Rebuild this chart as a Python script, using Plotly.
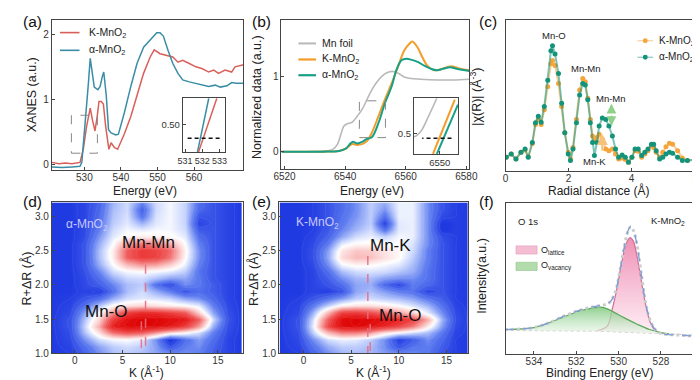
import plotly.graph_objects as go

W, H = 700, 380
FONT = "Arial, Liberation Sans, sans-serif"

# ---------------- (a) O K-edge XANES ----------------
a_E_alpha = [521.1, 523.9, 526.6, 528.8, 529.3, 530.2, 531.1, 531.6, 532.2, 532.7, 533.7, 534.3, 534.9, 535.3,
             536.0, 536.6, 537.3, 538.6, 539.3, 540.9, 542.7, 544.4, 546.2, 548.0, 549.8, 550.7, 551.6, 552.9,
             554.2, 555.6, 556.9, 558.7, 560.5, 562.3, 564.0, 565.8, 567.2, 569.0, 570.3, 571.6, 573.6]
a_v_alpha = [-0.03, -0.04, -0.03, -0.02, 0.04, 0.59, 1.25, 1.63, 1.35, 1.19, 1.15, 1.20, 1.35, 1.42,
             1.05, 0.54, 0.49, 0.46, 0.47, 0.79, 1.20, 1.55, 1.80, 1.91, 2.02, 2.02, 1.97, 1.75,
             1.55, 1.40, 1.30, 1.27, 1.25, 1.22, 1.20, 1.22, 1.19, 1.21, 1.26, 1.25, 1.25]
a_E_K = [521.1, 523.0, 524.8, 526.6, 528.8, 529.7, 530.6, 531.6, 532.2, 532.9, 533.5, 534.0, 534.6, 535.2,
         535.8, 536.7, 537.3, 538.2, 539.1, 540.9, 542.7, 544.4, 546.2, 548.0, 549.1, 550.7, 552.5, 554.2,
         555.6, 556.9, 558.7, 560.5, 562.3, 564.0, 565.4, 566.7, 568.5, 570.3, 571.2, 573.6]
a_v_K = [0.04, 0.02, 0.03, 0.02, 0.04, 0.24, 0.59, 0.87, 0.69, 0.52, 0.74, 0.97, 0.97, 0.93,
         0.60, 0.24, 0.34, 0.27, 0.24, 0.47, 0.74, 1.05, 1.40, 1.65, 1.76, 1.70, 1.67, 1.65,
         1.57, 1.60, 1.55, 1.50, 1.47, 1.42, 1.45, 1.40, 1.45, 1.42, 1.50, 1.53]
a_x_ticks = [530, 540, 550, 560]
a_y_ticks = [0, 1, 2]
# inset of (a)
ai_E_alpha = [531.72, 532.38]
ai_v_alpha = [0.358, 0.633]
ai_E_K = [531.78, 532.85]
ai_v_K = [0.358, 0.633]
ai_arrow_E = [531.15, 533.05]
ai_arrow_v = [0.43, 0.43]
ai_x_ticks = [531, 532, 533]
ai_y_ticks = [0.50]

# ---------------- (b) Mn K-edge ----------------
b_E_foil = [6519, 6527.3, 6533.7, 6535.9, 6537.5, 6538.6, 6539.6, 6540.7, 6542.3, 6544.0, 6545.6, 6547.2,
            6548.8, 6551.0, 6553.1, 6554.7, 6556.3, 6557.9, 6559.5, 6561.7, 6564.9, 6570.3, 6575.6, 6581.0]
b_v_foil = [0, 0, 0.01, 0.03, 0.10, 0.23, 0.34, 0.37, 0.39, 0.47, 0.56, 0.69,
            0.82, 0.95, 1.03, 1.06, 1.06, 1.03, 0.99, 0.97, 0.96, 0.95, 0.95, 0.96]
b_E_K = [6519, 6532.6, 6538.0, 6540.2, 6542.3, 6544.0, 6545.6, 6547.2, 6548.8, 6551.0, 6553.1, 6555.3,
         6557.4, 6559.5, 6561.2, 6562.2, 6563.9, 6565.5, 6567.1, 6569.3, 6571.4, 6573.6, 6575.6, 6577.9, 6581.0]
b_v_K = [0, 0, 0.01, 0.04, 0.10, 0.09, 0.10, 0.14, 0.25, 0.47, 0.69, 0.90,
         1.12, 1.34, 1.43, 1.46, 1.38, 1.25, 1.14, 1.08, 1.09, 1.12, 1.13, 1.10, 1.08]
b_E_alpha = [6519, 6532.6, 6538.0, 6540.2, 6541.8, 6542.6, 6544.0, 6545.6, 6547.2, 6548.8, 6551.0, 6553.1,
             6555.3, 6556.9, 6558.6, 6560.2, 6561.7, 6563.9, 6566.1, 6568.2, 6570.3, 6572.5, 6574.6, 6576.8, 6581.0]
b_v_alpha = [0, 0, 0.01, 0.04, 0.11, 0.13, 0.11, 0.13, 0.17, 0.19, 0.38, 0.64,
             0.86, 1.08, 1.21, 1.23, 1.22, 1.19, 1.14, 1.10, 1.08, 1.10, 1.12, 1.10, 1.07]
b_x_ticks = [6520, 6540, 6560, 6580]
b_y_ticks = [0, 1]
# inset of (b)
bi_E_foil = [6547.8, 6548.08, 6548.5, 6549.05, 6549.75]
bi_v_foil = [0.485, 0.492, 0.516, 0.57, 0.642]
bi_E_K = [6549.42, 6551.28]
bi_v_K = [0.416, 0.636]
bi_E_alpha = [6549.75, 6551.55]
bi_v_alpha = [0.416, 0.616]
bi_arrow_E = [6551.0, 6548.5]
bi_arrow_v = [0.48, 0.48]
bi_x_ticks = [6550]
bi_y_ticks = [0.5]

# ---------------- (c) FT-EXAFS ----------------
c_R = [0.02, 0.18, 0.33, 0.49, 0.62, 0.72, 0.85, 0.95, 1.04, 1.13, 1.23, 1.34, 1.44, 1.49, 1.57, 1.68,
       1.78, 1.88, 1.99, 2.06, 2.14, 2.25, 2.35, 2.45, 2.53, 2.61, 2.69, 2.76, 2.82, 2.90, 2.97, 3.07,
       3.18, 3.28, 3.39, 3.49, 3.59, 3.70, 3.80, 3.90, 4.01, 4.11, 4.21, 4.32, 4.42, 4.52, 4.63, 4.70,
       4.78, 4.89, 4.99, 5.09, 5.20, 5.30, 5.46, 5.61, 5.77, 6.00]
c_alpha = [0.30, 0.40, 0.25, 0.45, 0.55, 0.30, 0.75, 1.35, 1.55, 1.37, 1.85, 2.65, 3.55, 3.70, 3.45, 2.85,
           1.95, 1.05, 0.40, 0.20, 0.55, 1.35, 2.20, 2.55, 2.50, 2.05, 1.35, 0.75, 0.35, 0.75, 1.25, 1.50,
           1.45, 1.25, 0.95, 0.55, 0.30, 0.37, 0.30, 0.15, 0.30, 0.55, 0.55, 0.35, 0.45, 0.55, 0.70, 0.70,
           0.50, 0.25, 0.30, 0.40, 0.45, 0.42, 0.30, 0.20, 0.20, 0.23]
c_K = [0.30, 0.40, 0.25, 0.45, 0.52, 0.32, 0.72, 1.30, 1.45, 1.30, 1.75, 2.45, 3.15, 3.25, 3.10, 2.55,
       1.85, 1.05, 0.45, 0.25, 0.60, 1.45, 2.35, 2.70, 2.60, 2.10, 1.45, 0.95, 0.80, 0.90, 1.00, 0.85,
       0.55, 0.50, 0.55, 0.40, 0.25, 0.28, 0.23, 0.15, 0.30, 0.50, 0.48, 0.30, 0.40, 0.50, 0.65, 0.60,
       0.45, 0.30, 0.45, 0.62, 0.73, 0.70, 0.50, 0.28, 0.20, 0.23]
c_x_ticks = [0, 2, 4, 6]

# ---------------- (d)/(e) wavelet transforms ----------------
wt_K = [-2.5, -0.5, 1, 2.5, 4, 5.5, 7, 8.5, 10, 11.5, 13, 14.5, 16, 17.5]
wt_R = [1.0, 1.1, 1.2, 1.3, 1.4, 1.5, 1.6, 1.7, 1.8, 1.9, 2.0, 2.1, 2.2, 2.3, 2.4, 2.5, 2.6, 2.7, 2.8,
        2.9, 3.0, 3.1, 3.2]
wt_alpha = [
    [0.15, 0.16, 0.22, 0.30, 0.36, 0.38, 0.36, 0.33, 0.30, 0.30, 0.28, 0.22, 0.17, 0.15],  # 1.0
    [0.15, 0.17, 0.25, 0.33, 0.38, 0.40, 0.38, 0.32, 0.20, 0.28, 0.30, 0.23, 0.17, 0.15],  # 1.1
    [0.15, 0.18, 0.30, 0.40, 0.44, 0.45, 0.42, 0.30, 0.12, 0.25, 0.32, 0.25, 0.17, 0.15],  # 1.2
    [0.15, 0.19, 0.36, 0.50, 0.68, 0.75, 0.72, 0.62, 0.52, 0.46, 0.40, 0.28, 0.18, 0.15],  # 1.3
    [0.15, 0.20, 0.38, 0.58, 0.86, 0.95, 0.98, 0.96, 0.90, 0.78, 0.60, 0.34, 0.19, 0.15],  # 1.4
    [0.15, 0.20, 0.36, 0.52, 0.78, 0.92, 0.98, 0.97, 0.93, 0.88, 0.70, 0.40, 0.20, 0.15],  # 1.5
    [0.15, 0.18, 0.32, 0.45, 0.62, 0.78, 0.84, 0.83, 0.78, 0.72, 0.52, 0.33, 0.19, 0.15],  # 1.6
    [0.15, 0.17, 0.25, 0.37, 0.46, 0.50, 0.52, 0.50, 0.48, 0.46, 0.42, 0.28, 0.18, 0.15],  # 1.7
    [0.15, 0.16, 0.20, 0.25, 0.34, 0.40, 0.42, 0.41, 0.39, 0.33, 0.30, 0.24, 0.17, 0.15],  # 1.8
    [0.15, 0.15, 0.17, 0.15, 0.26, 0.36, 0.40, 0.34, 0.28, 0.20, 0.25, 0.22, 0.17, 0.15],  # 1.9
    [0.15, 0.15, 0.18, 0.22, 0.29, 0.36, 0.38, 0.25, 0.18, 0.30, 0.27, 0.22, 0.17, 0.15],  # 2.0
    [0.15, 0.15, 0.18, 0.25, 0.34, 0.39, 0.40, 0.36, 0.32, 0.33, 0.27, 0.20, 0.17, 0.15],  # 2.1
    [0.15, 0.15, 0.19, 0.29, 0.40, 0.44, 0.45, 0.44, 0.42, 0.38, 0.26, 0.20, 0.17, 0.15],  # 2.2
    [0.15, 0.15, 0.20, 0.34, 0.45, 0.56, 0.62, 0.60, 0.53, 0.43, 0.28, 0.20, 0.17, 0.15],  # 2.3
    [0.15, 0.15, 0.20, 0.36, 0.48, 0.70, 0.78, 0.76, 0.66, 0.46, 0.30, 0.20, 0.17, 0.15],  # 2.4
    [0.15, 0.15, 0.20, 0.36, 0.48, 0.70, 0.78, 0.76, 0.68, 0.47, 0.30, 0.20, 0.17, 0.15],  # 2.5
    [0.15, 0.15, 0.20, 0.34, 0.45, 0.60, 0.66, 0.64, 0.58, 0.45, 0.28, 0.20, 0.17, 0.15],  # 2.6
    [0.15, 0.15, 0.18, 0.31, 0.42, 0.46, 0.48, 0.47, 0.46, 0.42, 0.25, 0.20, 0.17, 0.15],  # 2.7
    [0.15, 0.15, 0.18, 0.28, 0.40, 0.44, 0.42, 0.44, 0.44, 0.40, 0.21, 0.20, 0.17, 0.15],  # 2.8
    [0.15, 0.15, 0.17, 0.26, 0.38, 0.42, 0.35, 0.42, 0.44, 0.39, 0.17, 0.20, 0.17, 0.15],  # 2.9
    [0.15, 0.15, 0.17, 0.25, 0.37, 0.41, 0.26, 0.41, 0.44, 0.39, 0.20, 0.20, 0.17, 0.15],  # 3.0
    [0.15, 0.15, 0.17, 0.24, 0.36, 0.40, 0.23, 0.40, 0.44, 0.39, 0.24, 0.20, 0.17, 0.15],  # 3.1
    [0.15, 0.15, 0.17, 0.23, 0.35, 0.40, 0.29, 0.40, 0.44, 0.39, 0.25, 0.20, 0.17, 0.15],  # 3.2
]
wt_K_MnO2 = [
    [0.15, 0.16, 0.23, 0.30, 0.35, 0.36, 0.35, 0.32, 0.30, 0.30, 0.27, 0.20, 0.16, 0.15],  # 1.0
    [0.15, 0.17, 0.26, 0.34, 0.38, 0.38, 0.36, 0.30, 0.20, 0.26, 0.28, 0.22, 0.16, 0.15],  # 1.1
    [0.15, 0.18, 0.30, 0.40, 0.43, 0.42, 0.38, 0.30, 0.16, 0.22, 0.30, 0.24, 0.16, 0.15],  # 1.2
    [0.15, 0.19, 0.38, 0.56, 0.66, 0.66, 0.60, 0.50, 0.45, 0.40, 0.36, 0.27, 0.17, 0.15],  # 1.3
    [0.15, 0.20, 0.42, 0.75, 0.94, 0.97, 0.92, 0.84, 0.76, 0.65, 0.48, 0.32, 0.18, 0.15],  # 1.4
    [0.15, 0.20, 0.40, 0.70, 0.94, 0.98, 0.95, 0.90, 0.84, 0.76, 0.58, 0.35, 0.19, 0.15],  # 1.5
    [0.15, 0.18, 0.34, 0.56, 0.78, 0.80, 0.75, 0.68, 0.60, 0.52, 0.42, 0.30, 0.18, 0.15],  # 1.6
    [0.15, 0.17, 0.27, 0.38, 0.47, 0.50, 0.50, 0.48, 0.45, 0.41, 0.35, 0.26, 0.17, 0.15],  # 1.7
    [0.15, 0.16, 0.20, 0.26, 0.32, 0.38, 0.40, 0.38, 0.36, 0.33, 0.27, 0.22, 0.16, 0.15],  # 1.8
    [0.15, 0.15, 0.17, 0.16, 0.20, 0.33, 0.36, 0.32, 0.28, 0.26, 0.17, 0.20, 0.16, 0.15],  # 1.9
    [0.15, 0.15, 0.17, 0.20, 0.25, 0.33, 0.34, 0.24, 0.17, 0.28, 0.24, 0.20, 0.16, 0.15],  # 2.0
    [0.15, 0.15, 0.17, 0.22, 0.30, 0.35, 0.36, 0.32, 0.30, 0.30, 0.26, 0.20, 0.16, 0.15],  # 2.1
    [0.15, 0.15, 0.17, 0.25, 0.36, 0.40, 0.41, 0.40, 0.37, 0.34, 0.26, 0.20, 0.16, 0.15],  # 2.2
    [0.15, 0.15, 0.18, 0.30, 0.44, 0.47, 0.46, 0.44, 0.42, 0.36, 0.27, 0.20, 0.16, 0.15],  # 2.3
    [0.15, 0.15, 0.19, 0.33, 0.51, 0.56, 0.55, 0.50, 0.46, 0.38, 0.28, 0.20, 0.16, 0.15],  # 2.4
    [0.15, 0.15, 0.19, 0.32, 0.49, 0.54, 0.53, 0.49, 0.46, 0.40, 0.28, 0.20, 0.16, 0.15],  # 2.5
    [0.15, 0.15, 0.18, 0.27, 0.42, 0.46, 0.46, 0.45, 0.45, 0.41, 0.30, 0.20, 0.16, 0.15],  # 2.6
    [0.15, 0.15, 0.17, 0.23, 0.33, 0.40, 0.43, 0.39, 0.44, 0.43, 0.30, 0.19, 0.16, 0.15],  # 2.7
    [0.15, 0.15, 0.16, 0.21, 0.29, 0.35, 0.40, 0.25, 0.42, 0.43, 0.30, 0.14, 0.16, 0.15],  # 2.8
    [0.15, 0.15, 0.16, 0.20, 0.27, 0.33, 0.38, 0.16, 0.42, 0.43, 0.30, 0.14, 0.16, 0.15],  # 2.9
    [0.15, 0.15, 0.16, 0.20, 0.26, 0.31, 0.38, 0.25, 0.43, 0.43, 0.30, 0.18, 0.16, 0.15],  # 3.0
    [0.15, 0.15, 0.16, 0.20, 0.25, 0.30, 0.38, 0.31, 0.43, 0.43, 0.30, 0.20, 0.16, 0.15],  # 3.1
    [0.15, 0.15, 0.16, 0.20, 0.25, 0.30, 0.38, 0.34, 0.43, 0.43, 0.30, 0.20, 0.16, 0.15],  # 3.2
]
wt_x_ticks = [0, 5, 10, 15]
wt_y_ticks = [1.0, 1.5, 2.0, 2.5, 3.0]
d_guide1_K = [7.42, 7.42]
d_guide1_R = [2.29, 1.0]
d_guide2_K = [6.98, 6.98]
d_guide2_R = [1.47, 1.0]
e_guide1_K = [6.75, 6.75]
e_guide1_R = [2.42, 1.0]
e_guide2_K = [7.0, 7.0]
e_guide2_R = [1.43, 1.0]

# ---------------- (f) O 1s XPS ----------------
f_E_env = [535.38, 534.08, 533.31, 532.54, 531.77, 531.15, 530.69, 530.39, 530.15, 529.92, 529.69, 529.54,
           529.43, 529.31, 529.15, 528.92, 528.69, 528.46, 528.23, 527.92, 527.15, 526.39]
f_v_env = [0.75, 0.80, 0.95, 1.17, 1.35, 1.45, 1.50, 1.60, 1.90, 2.60, 3.40, 3.78,
           3.88, 3.78, 3.40, 2.40, 1.45, 0.95, 0.72, 0.62, 0.58, 0.55]
f_E_lat = [531.0, 530.54, 530.31, 530.08, 529.85, 529.62, 529.46, 529.31, 529.15, 528.92, 528.69, 528.46,
           528.23, 527.92]
f_v_lat = [0.72, 0.85, 1.35, 2.00, 2.80, 3.40, 3.55, 3.45, 3.05, 2.20, 1.40, 0.90, 0.70, 0.63]
f_E_vac = [535.38, 534.08, 533.31, 532.54, 531.77, 531.15, 530.85, 530.54, 530.23, 529.77, 529.15, 528.54,
           527.92, 527.62]
f_v_vac = [0.75, 0.80, 0.95, 1.15, 1.33, 1.42, 1.43, 1.38, 1.28, 1.12, 0.92, 0.75, 0.65, 0.62]
f_E_base = [535.38, 531.0, 527.92, 526.39]
f_v_base = [0.72, 0.70, 0.62, 0.58]
f_x_ticks = [534, 532, 530, 528]

# ---------------- colours ----------------
C_A_K, C_A_ALPHA = "#d9605a", "#3a8da6"
C_FOIL, C_ORANGE, C_TEAL = "#b8b8b8", "#f39c2a", "#17a086"
C_C_ORANGE, C_C_TEAL = "#f4a53c", "#12937a"
WT_SCALE = [[0.0, "rgb(12,25,165)"], [0.15, "rgb(32,58,226)"], [0.28, "rgb(95,125,240)"],
            [0.38, "rgb(190,205,252)"], [0.45, "rgb(255,255,255)"], [0.52, "rgb(252,212,212)"],
            [0.70, "rgb(240,90,90)"], [0.85, "rgb(232,30,30)"], [1.0, "rgb(220,0,0)"]]


def X(p):
    return p / W


def Y(p):
    return 1 - p / H


def xax(x0, x1, rng, ticks, anchor, fmt=None, size=10, angle=None, standoff=None):
    d = dict(domain=[X(x0), X(x1)], range=rng, anchor=anchor, tickvals=ticks, showline=True,
             linecolor="#444", linewidth=1, mirror=True, ticks="inside", ticklen=3, tickcolor="#444",
             showgrid=False, zeroline=False, tickfont=dict(size=size, color="#333", family=FONT))
    if fmt:
        d["tickformat"] = fmt
    if angle is not None:
        d["tickangle"] = angle
    if standoff is not None:
        d["ticklabelstandoff"] = standoff
    return d


def yax(y0, y1, rng, ticks, anchor, fmt=None, size=10):
    d = dict(domain=[Y(y1), Y(y0)], range=rng, anchor=anchor, tickvals=ticks, showline=True,
             linecolor="#444", linewidth=1, mirror=True, ticks="inside", ticklen=3, tickcolor="#444",
             showgrid=False, zeroline=False, tickfont=dict(size=size, color="#333", family=FONT))
    if fmt:
        d["tickformat"] = fmt
    return d


fig = go.Figure()
L = dict(showlegend=False, hoverinfo="skip")

# (a)
fig.add_trace(go.Scatter(x=a_E_K, y=a_v_K, mode="lines", line=dict(color=C_A_K, width=1.5), xaxis="x", yaxis="y", **L))
fig.add_trace(go.Scatter(x=a_E_alpha, y=a_v_alpha, mode="lines", line=dict(color=C_A_ALPHA, width=1.5), xaxis="x", yaxis="y", **L))
fig.add_trace(go.Scatter(x=ai_E_alpha, y=ai_v_alpha, mode="lines", line=dict(color=C_A_ALPHA, width=1.5), xaxis="x2", yaxis="y2", **L))
fig.add_trace(go.Scatter(x=ai_E_K, y=ai_v_K, mode="lines", line=dict(color=C_A_K, width=1.5), xaxis="x2", yaxis="y2", **L))
fig.add_trace(go.Scatter(x=ai_arrow_E, y=ai_arrow_v, mode="lines", line=dict(color="#111", width=1.6, dash="4px,3px"), xaxis="x2", yaxis="y2", **L))

# (b)
fig.add_trace(go.Scatter(x=b_E_foil, y=b_v_foil, mode="lines", line=dict(color=C_FOIL, width=1.6, shape="spline"), xaxis="x3", yaxis="y3", **L))
fig.add_trace(go.Scatter(x=b_E_K, y=b_v_K, mode="lines", line=dict(color=C_ORANGE, width=2, shape="spline"), xaxis="x3", yaxis="y3", **L))
fig.add_trace(go.Scatter(x=b_E_alpha, y=b_v_alpha, mode="lines", line=dict(color=C_TEAL, width=2, shape="spline"), xaxis="x3", yaxis="y3", **L))
fig.add_trace(go.Scatter(x=bi_E_foil, y=bi_v_foil, mode="lines", line=dict(color=C_FOIL, width=1.6, shape="spline"), xaxis="x4", yaxis="y4", **L))
fig.add_trace(go.Scatter(x=bi_E_K, y=bi_v_K, mode="lines", line=dict(color=C_ORANGE, width=2), xaxis="x4", yaxis="y4", **L))
fig.add_trace(go.Scatter(x=bi_E_alpha, y=bi_v_alpha, mode="lines", line=dict(color=C_TEAL, width=2), xaxis="x4", yaxis="y4", **L))
fig.add_trace(go.Scatter(x=bi_arrow_E, y=bi_arrow_v, mode="lines", line=dict(color="#111", width=1.6, dash="4px,3px"), xaxis="x4", yaxis="y4", **L))

# (c)
fig.add_trace(go.Scatter(x=c_R, y=c_K, mode="lines+markers", line=dict(color="rgba(244,165,60,0.55)", width=2),
                         marker=dict(color=C_C_ORANGE, size=5), xaxis="x5", yaxis="y5", **L))
fig.add_trace(go.Scatter(x=c_R, y=c_alpha, mode="lines+markers", line=dict(color="rgba(18,147,122,0.55)", width=2),
                         marker=dict(color=C_C_TEAL, size=5), xaxis="x5", yaxis="y5", **L))

# (d) (e)
for z, xa, ya in [(wt_alpha, "x6", "y6"), (wt_K_MnO2, "x7", "y7")]:
    fig.add_trace(go.Contour(x=wt_K, y=wt_R, z=z, colorscale=WT_SCALE, zmin=0, zmax=1, showscale=False,
                             contours=dict(coloring="heatmap", start=0.02, end=1.0, size=0.035),
                             line=dict(width=0.5, color="rgba(255,255,255,0.14)", smoothing=1.3),
                             xaxis=xa, yaxis=ya, hoverinfo="skip"))
for k, r, xa, ya in [(d_guide1_K, d_guide1_R, "x6", "y6"), (d_guide2_K, d_guide2_R, "x6", "y6"),
                     (e_guide1_K, e_guide1_R, "x7", "y7"), (e_guide2_K, e_guide2_R, "x7", "y7")]:
    fig.add_trace(go.Scatter(x=k, y=r, mode="lines", line=dict(color="rgba(230,110,130,0.9)", width=1.5, dash="dash"),
                             xaxis=xa, yaxis=ya, **L))

# (f)
fig.add_trace(go.Scatter(x=f_E_base, y=f_v_base, mode="lines", line=dict(color="#c9c9c9", width=1, dash="dot"), xaxis="x8", yaxis="y8", **L))
fig.add_trace(go.Scatter(x=f_E_lat, y=f_v_lat, mode="lines", fill="tonexty",
                         fillgradient=dict(type="vertical", colorscale=[[0, "rgba(255,240,246,0.95)"], [1, "rgba(238,140,178,0.95)"]]),
                         line=dict(color="#cf6f95", width=1.2, shape="spline"), xaxis="x8", yaxis="y8", **L))
fig.add_trace(go.Scatter(x=f_E_base, y=f_v_base, mode="lines", line=dict(color="rgba(0,0,0,0)", width=0), xaxis="x8", yaxis="y8", **L))
fig.add_trace(go.Scatter(x=f_E_vac, y=f_v_vac, mode="lines", fill="tonexty",
                         fillgradient=dict(type="vertical", colorscale=[[0, "rgba(240,250,240,0.6)"], [1, "rgba(125,200,125,0.85)"]]),
                         line=dict(color="#5aa85a", width=1.2, shape="spline"), xaxis="x8", yaxis="y8", **L))
fig.add_trace(go.Scatter(x=f_E_env, y=f_v_env, mode="lines", line=dict(color="#cccccc", width=3, shape="spline", dash="dot"), xaxis="x8", yaxis="y8", **L))
fig.add_trace(go.Scatter(x=f_E_env, y=f_v_env, mode="lines", line=dict(color="#7f9ed8", width=1.3, shape="spline", dash="dash"), xaxis="x8", yaxis="y8", **L))

SO = -2
layout = dict(
    width=W, height=H, margin=dict(l=0, r=0, t=0, b=0), paper_bgcolor="white", plot_bgcolor="white",
    font=dict(family=FONT, color="#222"), showlegend=False,
    xaxis=xax(36.7, 232.5, [521.1, 573.45], a_x_ticks, "y", standoff=SO),
    yaxis=yax(12, 164.3, [-0.072, 2.218], a_y_ticks, "x"),
    xaxis2=xax(170.7, 214, [530.87, 533.33], ai_x_ticks, "y2", size=9, angle=0),
    yaxis2=yax(91.7, 146.7, [0.358, 0.633], ai_y_ticks, "x2", fmt=".2f", size=9.5),
    xaxis3=xax(271.7, 464, [6519, 6581], b_x_ticks, "y3", standoff=SO),
    yaxis3=yax(11.7, 164, [-0.235, 1.751], b_y_ticks, "x3"),
    xaxis4=xax(407.3, 452.3, [6547.8, 6551.55], bi_x_ticks, "y4", size=9.5, angle=0),
    yaxis4=yax(91.7, 148.3, [0.416, 0.642], bi_y_ticks, "x4", size=9.5),
    xaxis5=xax(501, 694.5, [0, 6], c_x_ticks, "y5", standoff=SO),
    yaxis5=yax(12.7, 165.3, [-0.11, 4.47], [], "x5"),
    xaxis6=xax(36.7, 232, [-2.4, 17.6], wt_x_ticks, "y6", standoff=SO),
    yaxis6=yax(197.5, 351, [1.0, 3.2], wt_y_ticks, "x6", fmt=".1f"),
    xaxis7=xax(269.3, 462.5, [-2.55, 17.25], wt_x_ticks, "y7", standoff=SO),
    yaxis7=yax(197.5, 351, [1.0, 3.2], wt_y_ticks, "x7", fmt=".1f"),
    xaxis8=xax(501, 696, [535.34, 526.34], f_x_ticks, "y8", standoff=SO),
    yaxis8=yax(198.3, 351.7, [0, 4.6], [], "x8"),
)
fig.update_layout(**layout)

anns = []


def T(text, xp, yp, size=12, color="#222", xanchor="center", angle=0, yanchor="middle"):
    anns.append(dict(text=text, x=X(xp), y=Y(yp), xref="paper", yref="paper", showarrow=False,
                     xanchor=xanchor, yanchor=yanchor, textangle=angle,
                     font=dict(size=size, color=color, family=FONT)))


# panel letters
for lab, xp, yp in [("(a)", 17, 14), ("(b)", 251, 14), ("(c)", 483, 14),
                    ("(d)", 17, 197), ("(e)", 251, 197), ("(f)", 481, 197)]:
    T(lab, xp, yp, size=15.5, color="#111")

# axis titles
T("Energy (eV)", 132, 185.5, 12)
T("XANES (a.u.)", 16, 88, 12.5, angle=-90)
T("Energy (eV)", 364, 185.5, 12)
T("Normalized data (a.u.)", 246, 90, 12.5, angle=-90)
T("Radial distance (Å)", 596, 185.5, 12)
T("|χ(R)| (Å<sup>-3</sup>)", 470, 90, 12.5, angle=-90)
T("K (Å<sup>-1</sup>)", 134, 370, 12)
T("R+ΔR (Å)", 11, 275, 12.5, angle=-90)
T("K (Å<sup>-1</sup>)", 366, 370, 12)
T("R+ΔR (Å)", 243, 275, 12.5, angle=-90)
T("Binding Energy (eV)", 597, 371, 12)
T("Intensity(a.u.)", 477, 272, 12.5, angle=-90)

shapes = []


def seg(x0, y0, x1, y1, color, width=1.6, dash="solid"):
    shapes.append(dict(type="line", xref="paper", yref="paper", x0=X(x0), y0=Y(y0), x1=X(x1), y1=Y(y1),
                       line=dict(color=color, width=width, dash=dash)))


# legends (a)
seg(45, 25, 65, 25, C_A_K)
seg(45, 43, 65, 43, C_A_ALPHA)
T("K-MnO<sub>2</sub>", 73, 25, 10.5, xanchor="left")
T("α-MnO<sub>2</sub>", 73, 43, 10.5, xanchor="left")
# legends (b)
seg(289, 36, 307, 36, C_FOIL, 2)
seg(289, 52.3, 307, 52.3, C_ORANGE, 2.2)
seg(289, 68.3, 307, 68.3, C_TEAL, 2.2)
T("Mn foil", 311, 36, 10.5, xanchor="left")
T("K-MnO<sub>2</sub>", 311, 52.3, 10.5, xanchor="left")
T("α-MnO<sub>2</sub>", 311, 68.3, 10.5, xanchor="left")
# legends (c)
seg(636, 33.3, 652, 33.3, "rgba(244,165,60,0.6)", 1)
seg(636, 50, 652, 50, "rgba(18,147,122,0.6)", 1)
shapes.append(dict(type="circle", xref="paper", yref="paper", x0=X(641.5), x1=X(646.5), y0=Y(35.8), y1=Y(30.8),
                   fillcolor=C_C_ORANGE, line=dict(width=0)))
shapes.append(dict(type="circle", xref="paper", yref="paper", x0=X(641.5), x1=X(646.5), y0=Y(52.5), y1=Y(47.5),
                   fillcolor=C_C_TEAL, line=dict(width=0)))
T("K-MnO<sub>2</sub>", 656, 33.3, 10, xanchor="left")
T("α-MnO<sub>2</sub>", 656, 50, 10, xanchor="left")

# (c) peak labels
T("Mn-O", 551, 28.3, 9.5)
T("Mn-Mn", 583, 61.7, 9.5)
T("Mn-Mn", 609, 91.7, 9.5)
T("Mn-K", 591.7, 156, 9.5)
# (c) arrows
shapes.append(dict(type="line", xref="x5", yref="y5", x0=3.36, x1=3.36, y0=1.30, y1=1.88,
                   line=dict(color="#8fd08a", width=1.5, dash="dot")))
for yv, ayv in [(1.93, 1.75), (1.25, 1.43)]:
    anns.append(dict(x=3.36, y=yv, ax=3.36, ay=ayv, xref="x5", yref="y5", axref="x5", ayref="y5", text="",
                     showarrow=True, arrowhead=2, arrowsize=1.3, arrowwidth=1.5, arrowcolor="#8fd08a"))
anns.append(dict(x=3.07, y=1.01, ax=3.07, ay=0.45, xref="x5", yref="y5", axref="x5", ayref="y5", text="",
                 showarrow=True, arrowhead=2, arrowsize=1.1, arrowwidth=2, arrowcolor="#f8c27a"))

# inset arrow heads
anns.append(dict(x=ai_arrow_E[1], y=ai_arrow_v[1], ax=ai_arrow_E[1] - 0.05, ay=ai_arrow_v[1], xref="x2", yref="y2",
                 axref="x2", ayref="y2", text="", showarrow=True, arrowhead=2, arrowsize=1.2, arrowwidth=1.6, arrowcolor="#111"))
anns.append(dict(x=bi_arrow_E[1], y=bi_arrow_v[1], ax=bi_arrow_E[1] + 0.08, ay=bi_arrow_v[1], xref="x4", yref="y4",
                 axref="x4", ayref="y4", text="", showarrow=True, arrowhead=2, arrowsize=1.2, arrowwidth=1.6, arrowcolor="#111"))

# dashed boxes
shapes.append(dict(type="rect", xref="x", yref="y", x0=526.44, x1=533.56, y0=0.18, y1=0.76,
                   line=dict(color="#888", width=1, dash="dash")))
shapes.append(dict(type="rect", xref="x3", yref="y3", x0=6544.7, x1=6553.3, y0=0.186, y1=0.674,
                   line=dict(color="#888", width=1, dash="dash")))

# (d)/(e) labels
T("α-MnO<sub>2</sub>", 73, 220, 12, color="#c8c8ff")
T("Mn-Mn", 136, 238.3, 17, color="#111")
T("Mn-O", 93, 308, 17, color="#111")
T("K-MnO<sub>2</sub>", 308.5, 218.3, 12, color="#c8c8ff")
T("Mn-K", 383.7, 241.7, 17, color="#111")
T("Mn-O", 393.7, 312.3, 17, color="#111")

# (f) labels and legend
T("O 1s", 524, 216.7, 9.5)
T("K-MnO<sub>2</sub>", 667, 216.7, 9.5)
shapes.append(dict(type="rect", xref="paper", yref="paper", x0=X(511.7), x1=X(533.3), y0=Y(250), y1=Y(241.7),
                   fillcolor="#f5bdd2", line=dict(color="#e3a0bb", width=0.6)))
shapes.append(dict(type="rect", xref="paper", yref="paper", x0=X(511.7), x1=X(533.3), y0=Y(266.7), y1=Y(258.3),
                   fillcolor="#b2dcab", line=dict(color="#93c58b", width=0.6)))
T("O<sub>lattice</sub>", 535, 246, 9, xanchor="left")
T("O<sub>vacancy</sub>", 535, 262.5, 9, xanchor="left")

fig.update_layout(annotations=anns, shapes=shapes)
fig.write_html("out.html")
